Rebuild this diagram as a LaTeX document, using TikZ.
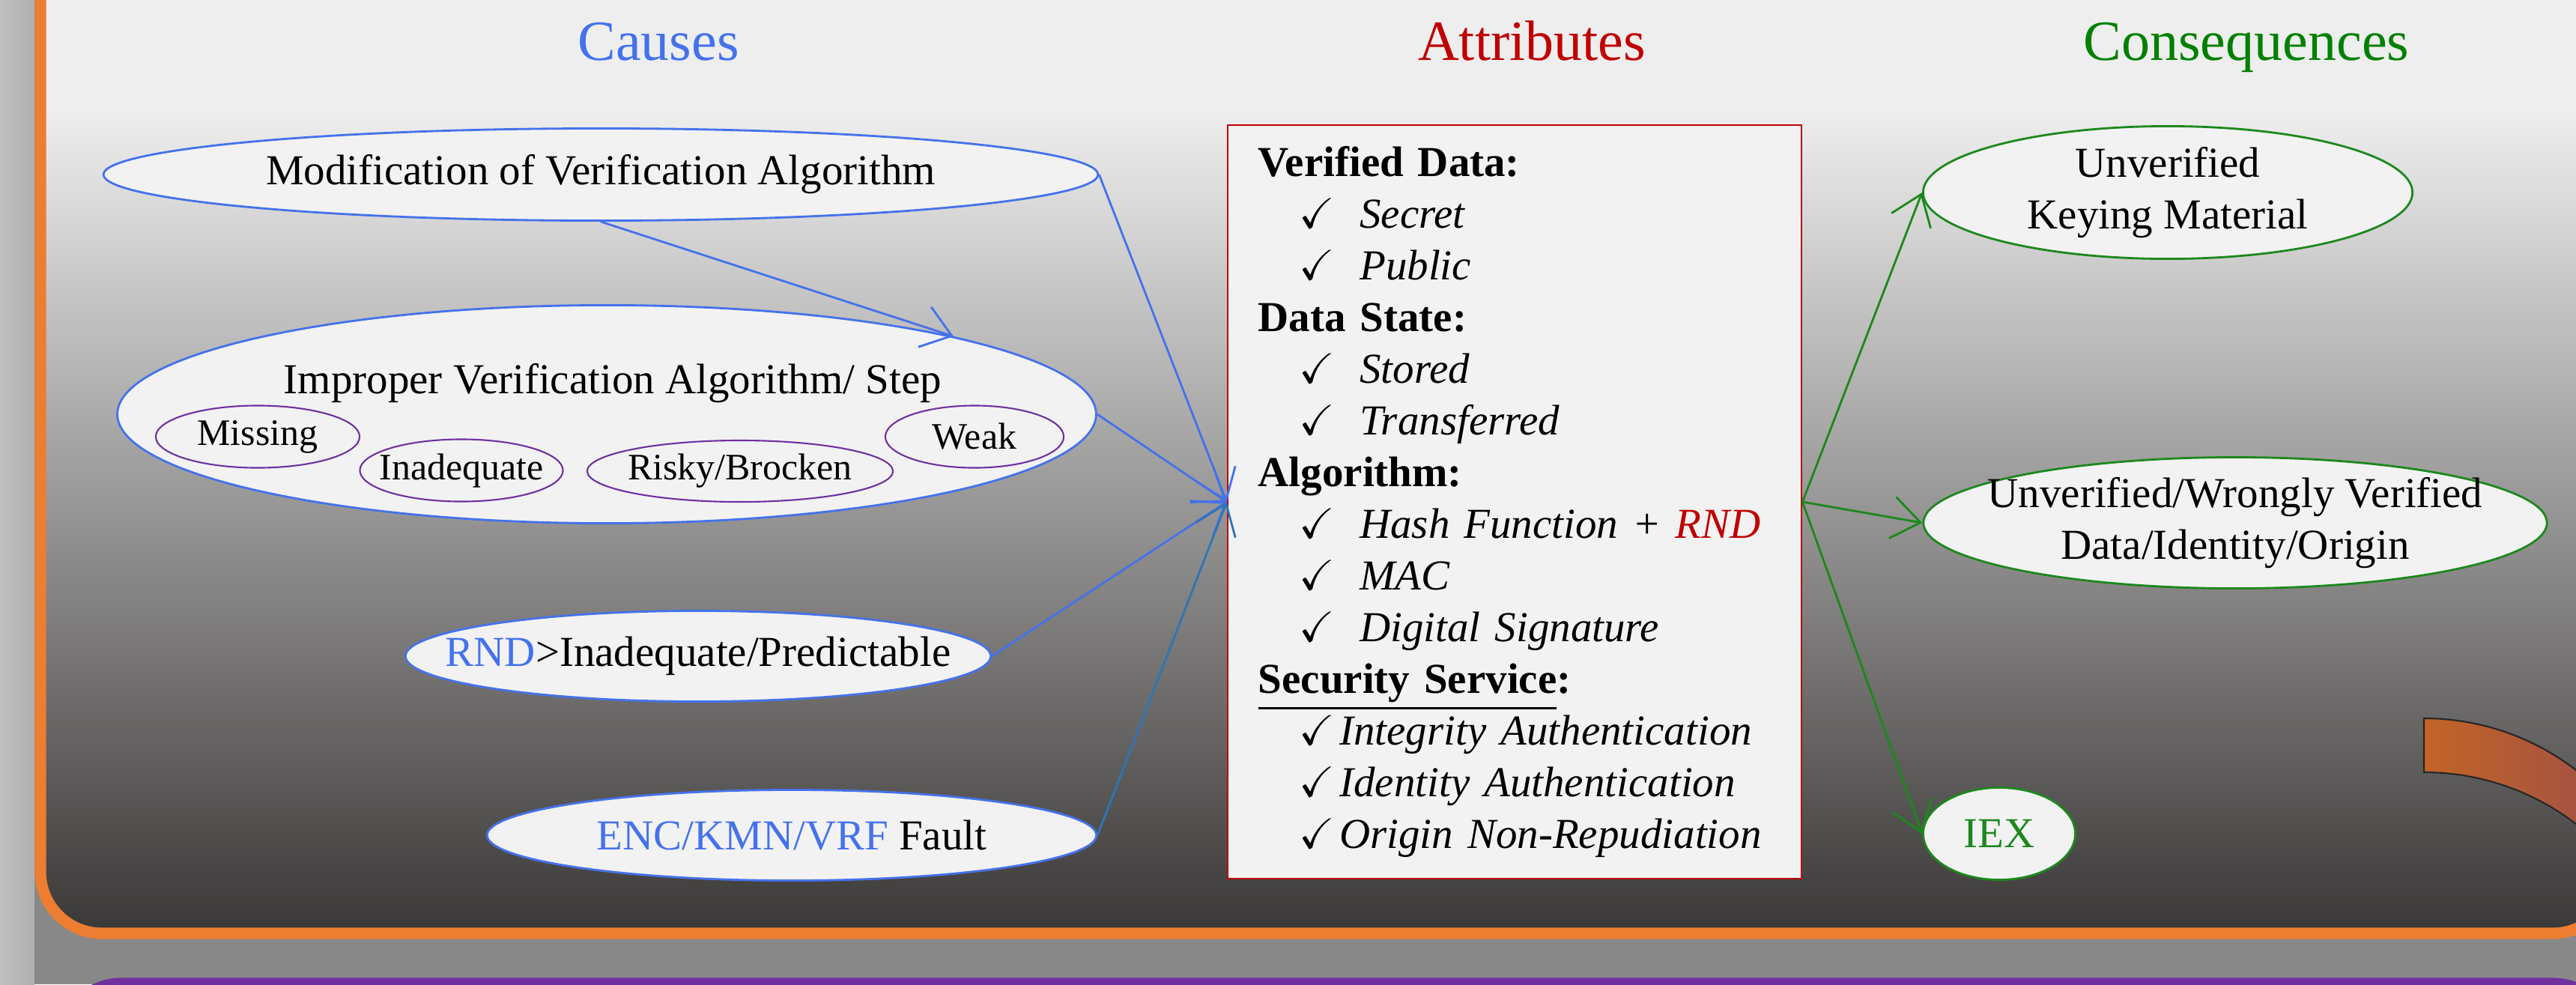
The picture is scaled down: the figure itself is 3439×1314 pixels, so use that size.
\documentclass[tikz,border=0pt]{standalone}
\usepackage{amssymb}
\usepackage{fontspec}
\setmainfont{Liberation Serif}
\usetikzlibrary{shapes.geometric, arrows.meta, positioning}
\definecolor{causeblue}{RGB}{68, 114, 236}
\definecolor{faultblue}{RGB}{46, 117, 182}
\definecolor{attrred}{RGB}{192, 0, 0}
\definecolor{effectgreen}{RGB}{28, 136, 28}
\definecolor{titlegreen}{RGB}{0, 128, 0}
\definecolor{subpurple}{RGB}{112, 48, 160}
\definecolor{frameorange}{RGB}{237, 125, 49}
\definecolor{framepurple}{RGB}{112, 48, 160}
\definecolor{boxgray}{RGB}{242, 242, 242}
\definecolor{backgray}{RGB}{136, 136, 136}
\definecolor{stripgray}{RGB}{192, 192, 192}
\definecolor{panellight}{RGB}{238, 238, 238}
\definecolor{paneldark}{RGB}{58, 56, 55}
\definecolor{arcorange}{RGB}{194, 100, 38}
\definecolor{arcred}{RGB}{160, 80, 72}
\pgfdeclareverticalshading{panelfade}{100bp}{color(0bp)=(paneldark); color(25bp)=(paneldark); color(63bp)=(panellight); color(100bp)=(panellight)}
\tikzset{
  >=Stealth,
  causearrow/.style={-{Straight Barb[length=3.8mm, width=5.6mm]}, thick, causeblue},
  faultarrow/.style={-{Straight Barb[length=3.8mm, width=5.6mm]}, thick, faultblue},
  effectarrow/.style={-{Straight Barb[length=3.8mm, width=5.6mm]}, thick, effectgreen},
  causenode/.style={ellipse, draw=causeblue, fill=boxgray, thick, inner sep=0pt, label={center:#1}},
  effectnode/.style={ellipse, draw=effectgreen, fill=boxgray, thick, inner sep=0pt, label={[align=center]center:#1}},
  subnode/.style={ellipse, draw=subpurple, fill=boxgray, semithick, inner sep=0pt, label={[font=\fontsize{14.2}{17}\selectfont]center:#1}},
  attrbox/.style={rectangle, draw=attrred, fill=boxgray, semithick, text width=6.84cm, inner xsep=0.41cm, inner ysep=0pt, minimum height=10.05cm, align=left},
  titletext/.style={anchor=base, font=\fontsize{21.6}{26}\selectfont}
}
\newcommand{\chkitem}[1]{\hspace*{0.55cm}$\checkmark$\hspace*{0.33cm}\textit{#1}}
\newcommand{\svcitem}[1]{\hspace*{0.55cm}$\checkmark$\hspace*{0.06cm}\textit{#1}}

\begin{document}
\begin{tikzpicture}[x=0.01cm, y=-0.01cm, thick, font=\fontsize{16.2}{19.6}\selectfont]
    \useasboundingbox (0,0) rectangle (3439,1314);
    % backdrop and the two frames
    \fill[backgray] (0,0) rectangle (3439,1314);
    \shade[left color=stripgray, right color=stripgray!70!backgray] (0,0) rectangle (46,1314);
    \shadedraw[shading=panelfade, draw=frameorange, line width=4.3pt, rounded corners=0.82cm] (54,-200) rectangle (3490,1246);
    \draw[framepurple, fill=panellight, line width=4.3pt, rounded corners=0.82cm] (80,1313) rectangle (3490,1600);

    \node[titletext, causeblue] (causes) at (879,80) {Causes};
    \node[titletext, attrred] (attributes) at (2045,80) {Attributes};
    \node[titletext, titlegreen] (consequences) at (2999,80) {Consequences};

    % causes
    \node[causenode={Modification of Verification Algorithm}, minimum width=13.27cm, minimum height=1.23cm] (modify) at (802,233) {};
    \node[causenode={}, minimum width=13.06cm, minimum height=2.91cm] (improper) at (810,553) {};
    \node[anchor=base] (impropertext) at (818,525) {Improper Verification Algorithm/ Step};
    \node[subnode=Missing, minimum width=2.72cm, minimum height=0.83cm] (missing) at (344,583) {};
    \node[subnode=Inadequate, minimum width=2.71cm, minimum height=0.83cm] (inadequate) at (616,628) {};
    \node[subnode=Risky/Brocken, minimum width=4.08cm, minimum height=0.82cm] (risky) at (988,629) {};
    \node[subnode=Weak, minimum width=2.38cm, minimum height=0.83cm] (weak) at (1301,583) {};
    \node[causenode={\textcolor{causeblue}{RND}>Inadequate/Predictable}, minimum width=7.81cm, minimum height=1.21cm] (rnd) at (932,876) {};
    \node[causenode={\textcolor{causeblue}{ENC/KMN/VRF} Fault}, minimum width=8.13cm, minimum height=1.21cm] (fault) at (1057,1115) {};

    % attributes
    \node[attrbox] (attr) at (2022,670) {%
      \textbf{Verified Data:}\\
      \chkitem{Secret}\\
      \chkitem{Public}\\
      \textbf{Data State:}\\
      \chkitem{Stored}\\
      \chkitem{Transferred}\\
      \textbf{Algorithm:}\\
      \chkitem{Hash Function + \textcolor{attrred}{RND}}\\
      \chkitem{MAC}\\
      \chkitem{Digital Signature}\\
      \textbf{\underline{Security Service}:}\\
      \svcitem{Integrity Authentication}\\
      \svcitem{Identity Authentication}\\
      \svcitem{Origin Non-Repudiation}};

    % consequences
    \node[effectnode={Unverified\\Keying Material}, minimum width=6.53cm, minimum height=1.77cm] (keying) at (2894,257) {};
    \node[effectnode={Unverified/Wrongly Verified\\Data/Identity/Origin}, minimum width=8.32cm, minimum height=1.75cm] (wrongly) at (2984,698) {};
    \node[effectnode={\textcolor{effectgreen}{IEX}}, minimum width=2.03cm, minimum height=1.23cm] (iex) at (2669,1113) {};

    \draw[causearrow] (modify.south) -- (improper.north east);
    \foreach \src in {modify, improper, rnd}
        \draw[causearrow] (\src.east) -- (attr.west);
    \draw[faultarrow] (fault.east) -- (attr.west);
    \foreach \dst in {keying, wrongly, iex}
        \draw[effectarrow] (attr.east) -- (\dst.west);

    \shadedraw[left color=arcorange, right color=arcred, draw=black!85, semithick] (3236,959) arc[start angle=-90, end angle=-40, radius=333] -- ++(0,72) arc[start angle=-40, end angle=-90, radius=333] -- cycle;
\end{tikzpicture}
\end{document}
